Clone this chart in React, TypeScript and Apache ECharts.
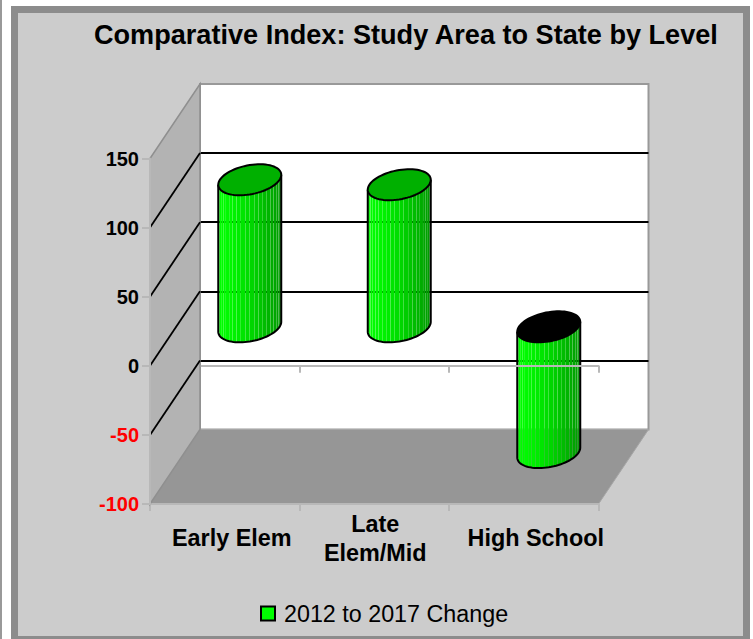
import React, { useEffect, useRef } from "react";
import * as echarts from "echarts";

const titleText = "Comparative Index: Study Area to State by Level";
const seriesName = "2012 to 2017 Change";
const categories = ["Early Elem", "Late\nElem/Mid", "High School"];
const labelShift = [14, 2, 24];
const changeValues = [106.4, 102.8, -91];
const innerTicks = [100, 50, 0, -50];
const axisMin = -100;
const axisMax = 150;
const axisStep = 50;

const GRID_L = 150;
const GRID_W = 448.5;
const GRID_T = 158.5;
const GRID_H = 345.5;
const DX = 50;
const DY = 74.5;
const CYL_LIFT = 39;
const RX = 31.5;
const RY = 15.5;
const PHI = Math.acos(0.32);
const FACETS = 22;
const SEAM = 0.07;
const FONT = '"Liberation Sans", Arial, sans-serif';
const AXIS_GREY = "#b8b8b8";

function capPoint(cx: number, cy: number, t: number, dx = 0): number[] {
  return [cx + RX * Math.cos(t) + dx, cy - RY * Math.cos(t - PHI)];
}

function facetColor(u: number): string {
  const g = Math.round(255 - Math.pow(u, 1.5) * 105);
  return `rgb(0,${g},0)`;
}

function renderCylinder(_p: any, api: any) {
  const i = api.value(0);
  const v = api.value(1);
  const a = api.coord([i, v]);
  const z = api.coord([i, 0]);
  const cx = a[0] + DX / 2;
  const yTop = Math.min(a[1], z[1]) - CYL_LIFT;
  const yBot = Math.max(a[1], z[1]) - CYL_LIFT;
  const children: any[] = [];
  for (let k = 0; k < FACETS; k++) {
    const t1 = Math.PI + (Math.PI * k) / FACETS;
    const t2 = Math.PI + (Math.PI * (k + 1)) / FACETS;
    const u = (Math.cos(t1) + Math.cos(t2) + 2) / 4;
    children.push({
      type: "polygon",
      shape: {
        points: [
          capPoint(cx, yTop, t1, SEAM),
          capPoint(cx, yTop, t2, -SEAM),
          capPoint(cx, yBot, t2, -SEAM),
          capPoint(cx, yBot, t1, SEAM),
        ],
      },
      style: { fill: facetColor(u), stroke: "none" },
    });
  }
  const outline: number[][] = [capPoint(cx, yTop, Math.PI)];
  for (let k = 0; k <= 40; k++) outline.push(capPoint(cx, yBot, Math.PI + (Math.PI * k) / 40));
  outline.push(capPoint(cx, yTop, 2 * Math.PI));
  children.push({ type: "polyline", shape: { points: outline }, style: { fill: "none", stroke: "#000", lineWidth: 2 } });
  const cap: number[][] = [];
  for (let k = 0; k < 72; k++) cap.push(capPoint(cx, yTop, (2 * Math.PI * k) / 72));
  children.push({
    type: "polygon",
    shape: { points: cap },
    style: { fill: v < 0 ? "#000000" : "#00b000", stroke: "#000", lineWidth: 2 },
  });
  return { type: "group", children };
}

function planeEdges(api: any) {
  const t = api.coord([0, axisMax])[1];
  const b = api.coord([0, axisMin])[1];
  return { t, b, l: GRID_L, r: GRID_L + GRID_W };
}

function renderBackWall(_p: any, api: any) {
  const { t, b, l, r } = planeEdges(api);
  return {
    type: "polygon",
    shape: { points: [[l + DX, t - DY], [r + DX, t - DY], [r + DX, b - DY], [l + DX, b - DY]] },
    style: { fill: "#ffffff", stroke: "#999999", lineWidth: 2 },
  };
}

function renderFloor(_p: any, api: any) {
  const { b, l, r } = planeEdges(api);
  return {
    type: "polygon",
    shape: { points: [[l, b], [r, b], [r + DX, b - DY], [l + DX, b - DY]] },
    style: { fill: "#969696", stroke: "#a6a6a6", lineWidth: 1 },
  };
}

function renderLeftWall(_p: any, api: any) {
  const { t, b, l } = planeEdges(api);
  return {
    type: "polygon",
    shape: { points: [[l, t], [l + DX, t - DY], [l + DX, b - DY], [l, b]] },
    style: { fill: "#b3b3b3", stroke: "#8f8f8f", lineWidth: 1.5 },
  };
}

function renderDiagonal(_p: any, api: any) {
  const y = api.coord([0, api.value(1)])[1];
  return {
    type: "line",
    shape: { x1: GRID_L, y1: y, x2: GRID_L + DX, y2: y - DY },
    style: { stroke: "#000", lineWidth: 1.8 },
  };
}

function xLabel(value: string) {
  const i = categories.indexOf(value);
  return value
    .split("\n")
    .map((s) => `{c${i}|${s}}`)
    .join("\n");
}

const labelRich: any = {};
labelShift.forEach((s, i) => {
  labelRich[`c${i}`] = {
    fontFamily: FONT,
    fontSize: 23.4,
    fontWeight: "bold",
    color: "#000",
    lineHeight: 29,
    padding: [0, 0, 0, s],
  };
});

function buildOption(): any {
  const wallBase = { type: "custom", xAxisIndex: 1, yAxisIndex: 1, silent: true, data: [[0, 0]] };
  return {
    animation: false,
    backgroundColor: "transparent",
    title: {
      text: titleText,
      left: 94,
      top: 21,
      padding: 0,
      textStyle: { fontFamily: FONT, fontSize: 27.1, fontWeight: "bold", color: "#000" },
    },
    legend: {
      left: 260,
      top: 602,
      padding: 0,
      itemWidth: 14,
      itemHeight: 14,
      itemGap: 0,
      selectedMode: false,
      textStyle: { fontFamily: FONT, fontSize: 23.3, color: "#000", padding: [5, 0, 0, 4] },
      data: [{ name: seriesName, icon: "rect", itemStyle: { color: "#00ff00", borderColor: "#000", borderWidth: 2 } }],
    },
    grid: [
      { left: GRID_L + DX, top: GRID_T - DY, width: GRID_W, height: GRID_H, containLabel: false },
      { left: GRID_L, top: GRID_T, width: GRID_W, height: GRID_H, containLabel: false },
    ],
    xAxis: [
      { gridIndex: 0, type: "category", data: categories, show: false },
      {
        gridIndex: 1,
        type: "category",
        data: categories,
        position: "bottom",
        z: 3,
        axisLine: { onZero: false, lineStyle: { color: AXIS_GREY, width: 2 } },
        axisTick: { show: true, length: 7, lineStyle: { color: AXIS_GREY, width: 2 } },
        axisLabel: {
          interval: 0,
          margin: 34,
          verticalAlign: "middle",
          formatter: xLabel,
          rich: labelRich,
        },
      },
      {
        gridIndex: 1,
        type: "category",
        data: categories,
        position: "top",
        z: 3,
        axisLine: { onZero: true, lineStyle: { color: AXIS_GREY, width: 2 } },
        axisTick: { show: true, inside: true, length: 7, lineStyle: { color: AXIS_GREY, width: 2 } },
        axisLabel: { show: false },
      },
    ],
    yAxis: [
      {
        gridIndex: 0,
        type: "value",
        min: axisMin,
        max: axisMax,
        interval: axisStep,
        z: 1,
        axisLine: { show: false },
        axisTick: { show: false },
        axisLabel: { show: false },
        splitLine: { show: true, showMinLine: false, showMaxLine: false, lineStyle: { color: "#000", width: 1.8 } },
      },
      {
        gridIndex: 1,
        type: "value",
        min: axisMin,
        max: axisMax,
        interval: axisStep,
        z: 6,
        axisLine: { show: true, lineStyle: { color: AXIS_GREY, width: 2 } },
        axisTick: { show: true, length: 8, lineStyle: { color: AXIS_GREY, width: 2 } },
        splitLine: { show: false },
        axisLabel: {
          margin: 11,
          fontFamily: FONT,
          fontSize: 20,
          fontWeight: "bold",
          color: (v: number) => (Number(v) < 0 ? "#ff0000" : "#000000"),
        },
      },
    ],
    series: [
      { ...wallBase, name: "back wall", z: 0, renderItem: renderBackWall },
      { ...wallBase, name: "floor", z: 1, renderItem: renderFloor },
      {
        type: "custom",
        name: seriesName,
        xAxisIndex: 1,
        yAxisIndex: 1,
        z: 2,
        silent: true,
        itemStyle: { color: "#00ff00" },
        data: changeValues.map((v, i) => [i, v]),
        renderItem: renderCylinder,
      },
      { ...wallBase, name: "left wall", z: 4, renderItem: renderLeftWall },
      {
        type: "custom",
        name: "wall ticks",
        xAxisIndex: 1,
        yAxisIndex: 1,
        z: 5,
        silent: true,
        data: innerTicks.map((v) => [0, v]),
        renderItem: renderDiagonal,
      },
    ],
  };
}

export default function App() {
  const ref = useRef<HTMLDivElement>(null);
  useEffect(() => {
    const chart = echarts.init(ref.current as HTMLDivElement, undefined, { renderer: "svg" });
    chart.setOption(buildOption());
    return () => chart.dispose();
  }, []);
  return (
    <div style={{ position: "fixed", left: 0, top: 0, width: 753, height: 639, background: "#ffffff", overflow: "hidden" }}>
      <div style={{ position: "absolute", left: 0, top: 0, width: 1.5, height: 639, background: "#999999" }} />
      <div
        style={{
          position: "absolute",
          left: 10.5,
          top: 6,
          width: 725,
          height: 640,
          boxSizing: "content-box",
          background: "#cccccc",
          border: "7px solid #8c8c8c",
          borderBottomWidth: 0,
        }}
      />
      <div style={{ position: "absolute", left: 10.5, top: 636, width: 739, height: 3, background: "#8c8c8c" }} />
      <div ref={ref} style={{ position: "absolute", left: 0, top: 0, width: 753, height: 639 }} />
    </div>
  );
}
